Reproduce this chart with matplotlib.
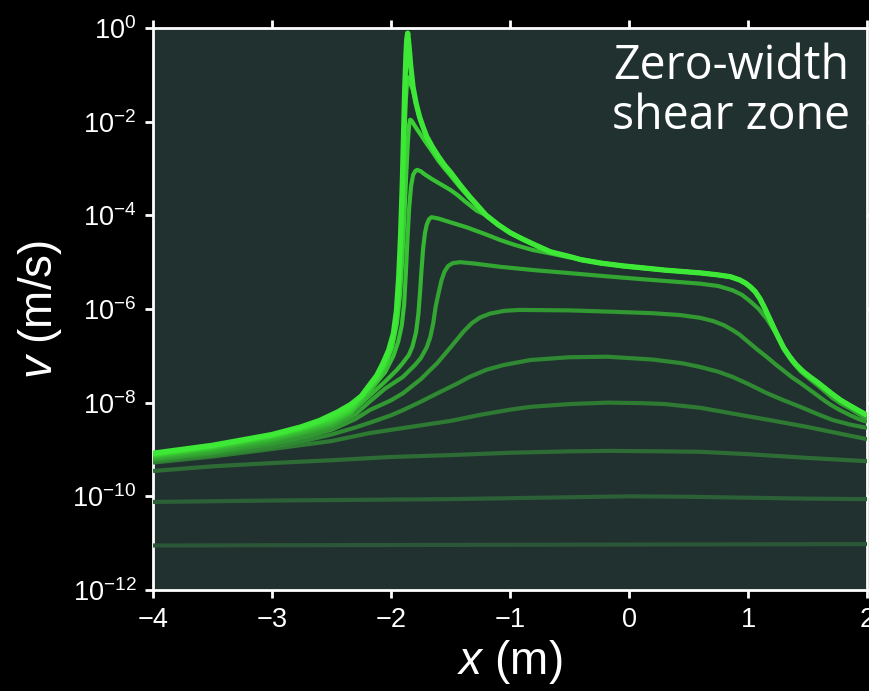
import matplotlib
matplotlib.use("Agg")
import matplotlib.pyplot as plt
import numpy as np

plt.rcParams['font.family'] = ['Liberation Sans', 'DejaVu Sans']
plt.rcParams['mathtext.fontset'] = 'custom'
plt.rcParams['mathtext.rm'] = 'Liberation Sans'
plt.rcParams['mathtext.it'] = 'Liberation Sans:italic'

# perfiles de velocidad: x (m) y log10(v)

# tramos comunes donde los perfiles rapidos coinciden
xa = [-1.2, -1.1, -1.0, -0.9, -0.8, -0.66, -0.5, -0.4, -0.24, -0.05, 0.15]
lva = [-4.0, -4.2, -4.37, -4.5, -4.62, -4.78, -4.88, -4.95, -5.02, -5.08, -5.13]
xb = [0.3, 0.45, 0.6, 0.74, 0.85, 0.93, 0.98, 1.02, 1.06, 1.1, 1.14, 1.18, 1.22, 1.26, 1.3,
      1.35, 1.4, 1.46, 1.52, 1.58, 1.65, 1.71, 1.78, 1.86, 1.93, 2.0]
lvb = [-5.17, -5.2, -5.23, -5.27, -5.31, -5.38, -5.45, -5.53, -5.63, -5.78, -5.98, -6.2, -6.42,
       -6.63, -6.83, -7.02, -7.18, -7.33, -7.45, -7.56, -7.7, -7.82, -7.95, -8.07, -8.17, -8.27]

x1 = [-4.0, -3.5, -3.0, -2.76, -2.6, -2.45, -2.34, -2.25, -2.18, -2.12, -2.07, -2.02, -1.98, -1.955,
      -1.935, -1.92, -1.905, -1.895, -1.885, -1.875, -1.868, -1.86, -1.85, -1.835, -1.815, -1.79,
      -1.76, -1.73, -1.7, -1.65, -1.6, -1.55, -1.5, -1.42, -1.34, -1.27]
lv1 = [-9.08, -8.91, -8.68, -8.52, -8.38, -8.2, -8.04, -7.86, -7.62, -7.42, -7.17, -6.88, -6.52, -6.05,
       -5.3, -4.45, -3.3, -2.3, -1.3, -0.6, -0.25, -0.11, -0.35, -0.8, -1.26, -1.6,
       -1.9, -2.12, -2.32, -2.55, -2.75, -2.93, -3.08, -3.35, -3.6, -3.8]

x2 = [-4.0, -3.5, -3.0, -2.76, -2.5, -2.34, -2.18, -2.12, -2.06, -2.0, -1.96, -1.94, -1.925, -1.91,
      -1.897, -1.885, -1.875, -1.866, -1.86, -1.85, -1.835, -1.815, -1.79, -1.76, -1.73, -1.7,
      -1.65, -1.6, -1.55, -1.5, -1.42, -1.34, -1.27]
lv2 = [-9.1, -8.93, -8.7, -8.55, -8.33, -8.12, -7.66, -7.47, -7.2, -6.85, -6.35, -5.8, -5.0, -4.0,
       -3.0, -2.1, -1.5, -1.15, -1.05, -1.1, -1.2, -1.33, -1.62, -1.92, -2.13, -2.33,
       -2.56, -2.76, -2.94, -3.09, -3.36, -3.61, -3.81]

x3 = [-4.0, -3.5, -3.0, -2.76, -2.5, -2.34, -2.18, -2.1, -2.04, -1.99, -1.95, -1.925, -1.905, -1.888,
      -1.872, -1.858, -1.848, -1.84, -1.83, -1.81, -1.78, -1.75, -1.7, -1.65, -1.6, -1.55, -1.5,
      -1.42, -1.34, -1.27]
lv3 = [-9.12, -8.95, -8.72, -8.57, -8.37, -8.16, -7.7, -7.45, -7.15, -6.8, -6.3, -5.7, -4.9, -4.0,
       -3.1, -2.4, -2.07, -1.96, -1.97, -2.05, -2.17, -2.28, -2.47, -2.65, -2.84, -3.0, -3.15,
       -3.4, -3.63, -3.82]

x4 = [-4.0, -3.5, -3.0, -2.76, -2.5, -2.34, -2.18, -2.05, -1.98, -1.94, -1.91, -1.89, -1.875, -1.862,
      -1.848, -1.832, -1.815, -1.795, -1.78, -1.75, -1.72, -1.66, -1.6, -1.5, -1.44, -1.38, -1.33, -1.28]
lv4 = [-9.14, -8.97, -8.74, -8.6, -8.41, -8.2, -7.75, -7.35, -7.0, -6.7, -6.35, -5.9, -5.2, -4.5,
       -3.85, -3.38, -3.14, -3.05, -3.03, -3.06, -3.12, -3.22, -3.31, -3.46, -3.57, -3.7, -3.8, -3.9]

x5 = [-4.0, -3.5, -3.0, -2.76, -2.5, -2.34, -2.18, -2.05, -1.95, -1.9, -1.85, -1.82, -1.79, -1.77,
      -1.755, -1.745, -1.73, -1.715, -1.7, -1.68, -1.66, -1.6, -1.5, -1.36, -1.2, -1.08, -0.95,
      -0.81, -0.65, -0.52, -0.35, -0.2, -0.05, 0.15]
lv5 = [-9.17, -9.0, -8.78, -8.64, -8.45, -8.22, -7.85, -7.55, -7.3, -7.15, -6.98, -6.8, -6.5, -6.1,
       -5.6, -5.2, -4.7, -4.38, -4.2, -4.08, -4.04, -4.07, -4.15, -4.26, -4.41, -4.53, -4.64,
       -4.74, -4.82, -4.89, -4.96, -5.03, -5.09, -5.14]

x6 = [-4.0, -3.5, -3.0, -2.7, -2.5, -2.3, -2.18, -2.05, -1.9, -1.8, -1.75, -1.7, -1.67, -1.645,
      -1.625, -1.6, -1.575, -1.55, -1.52, -1.48, -1.42, -1.3, -1.08, -0.8, -0.52, -0.2, 0.09, 0.45,
      0.6, 0.75, 0.87, 0.95, 1.02, 1.09, 1.16, 1.23, 1.3, 1.37, 1.44, 1.52, 1.58, 1.65, 1.71,
      1.78, 1.86, 1.93, 2.0]
lv6 = [-9.2, -9.05, -8.82, -8.64, -8.5, -8.25, -7.98, -7.7, -7.45, -7.2, -7.05, -6.82, -6.6, -6.3,
       -5.95, -5.65, -5.38, -5.2, -5.08, -5.02, -5.0, -5.03, -5.1, -5.17, -5.23, -5.3, -5.36, -5.43,
       -5.46, -5.51, -5.6, -5.7, -5.84, -6.0, -6.22, -6.5, -6.86, -7.12, -7.33, -7.5, -7.62, -7.77, -7.9,
       -8.02, -8.13, -8.24, -8.34]

x7 = [-4.0, -3.5, -3.0, -2.7, -2.5, -2.3, -2.18, -2.0, -1.9, -1.75, -1.61, -1.5, -1.39, -1.32,
      -1.25, -1.17, -1.05, -0.92, -0.5, -0.13, 0.2, 0.43, 0.6, 0.71, 0.8, 0.87, 0.93, 1.0, 1.08,
      1.16, 1.23, 1.3, 1.37, 1.44, 1.51, 1.58, 1.65, 1.71, 1.78, 1.86, 1.93, 2.0]
lv7 = [-9.22, -9.08, -8.88, -8.72, -8.58, -8.35, -8.16, -7.95, -7.8, -7.5, -7.15, -6.82, -6.48, -6.3,
       -6.18, -6.1, -6.04, -6.02, -6.03, -6.06, -6.09, -6.13, -6.19, -6.26, -6.35, -6.45, -6.55, -6.7,
       -6.87, -7.03, -7.18, -7.32, -7.46, -7.58, -7.71, -7.84, -7.97, -8.07, -8.17, -8.27, -8.35, -8.41]

x8 = [-4.0, -3.5, -3.0, -2.7, -2.5, -2.3, -2.18, -2.0, -1.9, -1.75, -1.61, -1.45, -1.34, -1.2,
      -1.06, -0.83, -0.5, -0.18, 0.2, 0.45, 0.6, 0.75, 0.87, 1.0, 1.16, 1.3, 1.44, 1.58, 1.71,
      1.86, 2.0]
lv8 = [-9.25, -9.12, -8.95, -8.8, -8.68, -8.53, -8.43, -8.27, -8.16, -7.98, -7.8, -7.6, -7.45, -7.3,
       -7.2, -7.09, -7.03, -7.02, -7.08, -7.16, -7.24, -7.34, -7.45, -7.6, -7.8, -7.95, -8.09, -8.24,
       -8.37, -8.47, -8.54]

x9 = [-4.0, -3.5, -3.0, -2.5, -2.18, -1.92, -1.5, -1.25, -1.0, -0.83, -0.5, -0.18, 0.1, 0.3, 0.6,
      0.93, 1.2, 1.5, 1.75, 2.0]
lv9 = [-9.28, -9.15, -8.99, -8.82, -8.65, -8.55, -8.39, -8.26, -8.15, -8.09, -8.03, -8.0, -8.01,
       -8.03, -8.11, -8.26, -8.38, -8.52, -8.65, -8.78]

x10 = [-4.0, -3.5, -3.0, -2.5, -2.0, -1.5, -1.0, -0.5, -0.16, 0.3, 0.6, 1.0, 1.5, 2.0]
lv10 = [-9.46, -9.36, -9.29, -9.23, -9.16, -9.12, -9.07, -9.04, -9.03, -9.04, -9.05, -9.1, -9.18, -9.25]

x11 = [-4.0, -3.0, -2.0, -1.5, -0.5, 0.0, 0.5, 1.0, 1.5, 2.0]
lv11 = [-10.12, -10.09, -10.07, -10.06, -10.02, -10.0, -10.01, -10.03, -10.05, -10.06]

x12 = [-4.0, -2.0, 0.0, 2.0]
lv12 = [-11.05, -11.04, -11.03, -11.02]

perfiles = [(x1 + xa + xb, lv1 + lva + lvb),
            (x2 + xa + xb, lv2 + lva + lvb),
            (x3 + xa + xb, lv3 + lva + lvb),
            (x4 + xa + xb, lv4 + lva + lvb),
            (x5 + xb, lv5 + lvb),
            (x6, lv6), (x7, lv7), (x8, lv8), (x9, lv9), (x10, lv10), (x11, lv11), (x12, lv12)]
colores = ["#3ee836", "#3bdc34", "#39d033", "#37c233", "#35b532", "#33a532",
           "#329831", "#2f8832", "#2e7a33", "#2d6c35", "#2c6036", "#2b5637"]

fig = plt.figure(figsize=(8.7, 6.91), dpi=100, facecolor="black")
ax = fig.add_axes([0.1759, 0.1462, 0.8207, 0.8133])
ax.set_facecolor("#213130")

# del mas lento al mas rapido, asi el verde brillante queda encima
for i in range(len(perfiles) - 1, -1, -1):
    xs, lv = perfiles[i]
    ax.plot(xs, 10.0 ** np.array(lv), color=colores[i], lw=3.8 if i == 0 else 3.0,
            solid_capstyle="butt", solid_joinstyle="round", zorder=20 - i)

ax.set_yscale("log")
ax.set_xlim(-4, 2)
ax.set_ylim(1e-12, 1e0)
ax.set_yticks([1e-12, 1e-10, 1e-8, 1e-6, 1e-4, 1e-2, 1e0])
ax.set_xticks([-4, -3, -2, -1, 0, 1, 2])
ax.minorticks_off()

for s in ax.spines.values():
    s.set_color("white")
    s.set_linewidth(2)
ax.tick_params(direction="out", top=True, right=True, length=6, width=2,
               colors="white", labelsize=19.5, pad=6)

ax.set_xlabel(r"$x$ (m)", fontsize=33, color="white", labelpad=4)
ax.set_ylabel(r"$v$ (m/s)", fontsize=33, color="white", labelpad=6)

ax.text(0.976, 0.975, "Zero-width\nshear zone", transform=ax.transAxes, ha="right", va="top",
        multialignment="center", fontsize=33.5, family="Open Sans", color="white",
        linespacing=1.08, zorder=30)

fig.savefig("out.png", dpi=100, facecolor="black")
